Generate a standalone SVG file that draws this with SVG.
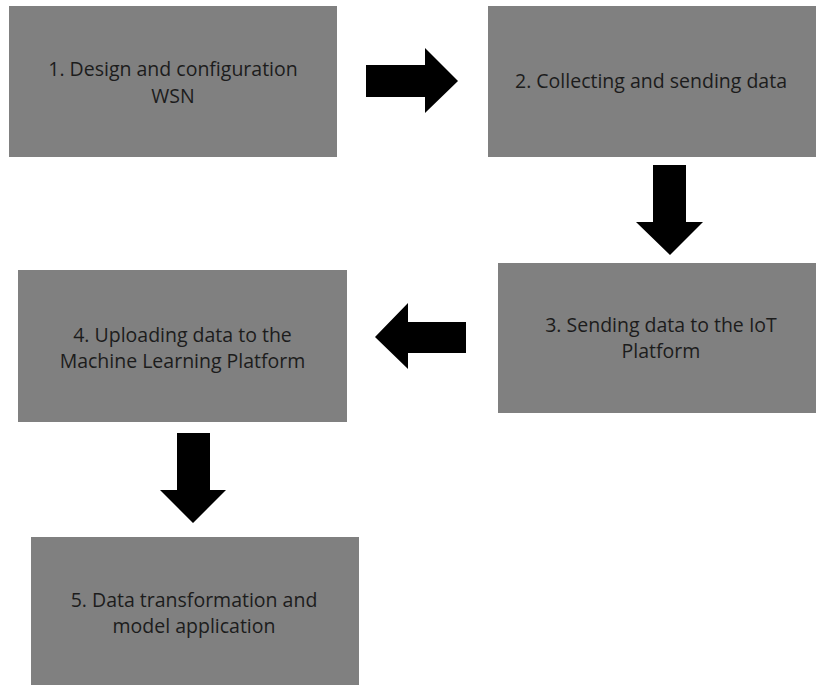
<svg xmlns="http://www.w3.org/2000/svg" width="816" height="685" viewBox="0 0 816 685">
<style>
.box{fill:#808080;}
.lbl{font-family:"Open Sans","Liberation Sans",sans-serif;font-size:19.5px;fill:#1c1c1c;text-anchor:middle;}
.arr{fill:#000;}
</style>
<rect width="816" height="685" fill="#fff"/>
<g id="node1">
<rect class="box" x="9" y="6" width="328" height="151"/>
<text class="lbl" x="173" y="76">1. Design and configuration</text>
<text class="lbl" x="173" y="103">WSN</text>
</g>
<g id="node2">
<rect class="box" x="488" y="6" width="328" height="151"/>
<text class="lbl" x="651" y="88">2. Collecting and sending data</text>
</g>
<g id="node3">
<rect class="box" x="498" y="263" width="318" height="150"/>
<text class="lbl" x="661" y="332">3. Sending data to the IoT</text>
<text class="lbl" x="661" y="358">Platform</text>
</g>
<g id="node4">
<rect class="box" x="18" y="270" width="329" height="152"/>
<text class="lbl" x="182.5" y="342">4. Uploading data to the</text>
<text class="lbl" x="182.5" y="368">Machine Learning Platform</text>
</g>
<g id="node5">
<rect class="box" x="31" y="537" width="328" height="148"/>
<text class="lbl" x="194" y="607">5. Data transformation and</text>
<text class="lbl" x="194" y="633">model application</text>
</g>
<g id="connectors">
<polygon class="arr" points="366,65 425,65 425,48 458,81 425,113 425,97 366,97"/>
<polygon class="arr" points="653,165 686,165 686,222 703,222 670,255 636,222 653,222"/>
<polygon class="arr" points="466,322 408,322 408,303 375,337 408,369 408,353 466,353"/>
<polygon class="arr" points="177,433 210,433 210,490 226,490 193,523 160,490 177,490"/>
</g>
</svg>
